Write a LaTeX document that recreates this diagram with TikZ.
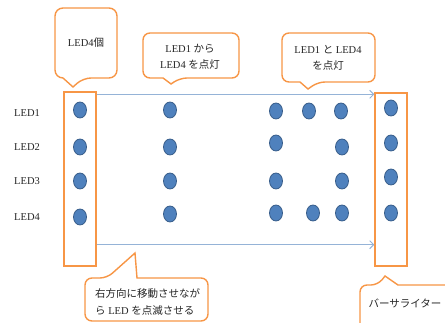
\documentclass[tikz,border=0pt]{standalone}
\usepackage{fontspec}
\setmainfont{Liberation Serif}
\newfontfamily\jp{Noto Sans CJK JP}
\usetikzlibrary{shapes.geometric,arrows.meta}
\definecolor{orng}{HTML}{F79646}
\definecolor{ledfill}{HTML}{4F81BD}
\definecolor{ledline}{HTML}{385D8A}
\definecolor{arrblue}{HTML}{95B3D7}
\definecolor{txt}{HTML}{262626}
\begin{document}
\begin{tikzpicture}[x=1pt,y=-1pt,
  led/.style={ellipse,draw=ledline,fill=ledfill,line width=0.8pt,minimum width=13pt,minimum height=16pt,inner sep=0pt},
  obox/.style={draw=orng,line width=1.4pt,inner sep=0pt},
  callout/.style={draw=orng,line width=1.4pt,fill=white,line join=miter},
  arr/.style={draw=arrblue,line width=0.9pt,-{Straight Barb[length=4pt,width=8pt]}},
  lbl/.style={font=\fontsize{10.5}{13}\selectfont,text=txt,inner sep=0pt},
  ctext/.style={font=\fontsize{10.5}{16}\selectfont,text=txt,align=center,inner sep=0pt}
]
\useasboundingbox (0,0) rectangle (445,323);
\clip (0,0) rectangle (445,323);
% orange boxes
\node[obox,minimum width=32pt,minimum height=174pt] (lbox) at (80,179) {};
\node[obox,minimum width=32pt,minimum height=173pt] (rbox) at (391,179.5) {};
% arrows
\draw[arr] ([yshift=-3pt]lbox.north east) -- ([yshift=-2pt]rbox.north west);
\draw[arr] ([yshift=22pt]lbox.south east) -- ([yshift=22pt]rbox.south west);
% labels
\node[lbl] (l1) at (27,113) {LED1};
\node[lbl] (l2) at (27,147) {LED2};
\node[lbl] (l3) at (27,181) {LED3};
\node[lbl] (l4) at (27,217) {LED4};
% left column LEDs
\node[led] (a1) at (80,110) {};
\node[led] (a2) at (80,147) {};
\node[led] (a3) at (80,181) {};
\node[led] (a4) at (80,217) {};
% middle column
\node[led] (b1) at (170,110) {};
\node[led] (b2) at (170,147) {};
\node[led] (b3) at (170,181) {};
\node[led] (b4) at (170,214) {};
% right group
\node[led] (c11) at (276,111) {};
\node[led] (c12) at (309,111) {};
\node[led] (c13) at (341,111) {};
\node[led] (c21) at (276,143) {};
\node[led] (c23) at (342,147) {};
\node[led] (c31) at (276,181) {};
\node[led] (c33) at (342,181) {};
\node[led] (c41) at (276,213) {};
\node[led] (c42) at (313,213) {};
\node[led] (c43) at (342,213) {};
% right column
\node[led] (d1) at (391,108) {};
\node[led] (d2) at (391,143) {};
\node[led] (d3) at (391,177) {};
\node[led] (d4) at (391,213) {};
% callouts
\draw[callout] (86,8) [rounded corners=8pt] -- (117,8) -- (117,78) -- (83,78) [sharp corners] -- (73,87) -- (63,78) [rounded corners=8pt] -- (55,78) -- (55,8) -- cycle;
\draw[callout] (190,33) [rounded corners=7pt] -- (239,33) -- (239,78) -- (180,78) [sharp corners] -- (171,84) -- (163,78) [rounded corners=7pt] -- (143,78) -- (143,33) -- cycle;
\draw[callout] (328,33) [rounded corners=7pt] -- (375,33) -- (375,82) -- (318,82) [sharp corners] -- (308,89) -- (300,82) [rounded corners=7pt] -- (282,82) -- (282,33) -- cycle;
\draw[callout] (150,321) [rounded corners=7pt] -- (85,321) -- (85,278) -- (107,278) [sharp corners] -- (135,253) -- (137,278) [rounded corners=7pt] -- (208,278) -- (208,321) -- cycle;
\draw[callout] (400,340) [rounded corners=7pt] -- (360,340) -- (360,285) -- (378,285) [sharp corners] -- (385,276) -- (398,285) [rounded corners=7pt] -- (460,285) -- (460,340) -- cycle;
% callout texts
\node[ctext] (t1) at (86,43) {LED4{\jp 個}};
\node[ctext] (t2) at (190,57) {LED1 {\jp から}\\LED4 {\jp を点灯}};
\node[ctext] (t3) at (328,57.5) {LED1 {\jp と} LED4\\{\jp を点灯}};
\node[ctext,align=left,anchor=west,font=\fontsize{10.5}{17}\selectfont] (t4) at (95,301.5) {{\jp 右方向に移動させなが}\\{\jp ら} LED {\jp を点滅させる}};
\node[ctext] (t5) at (405,303) {\jp バーサライター};
\end{tikzpicture}
\end{document}
